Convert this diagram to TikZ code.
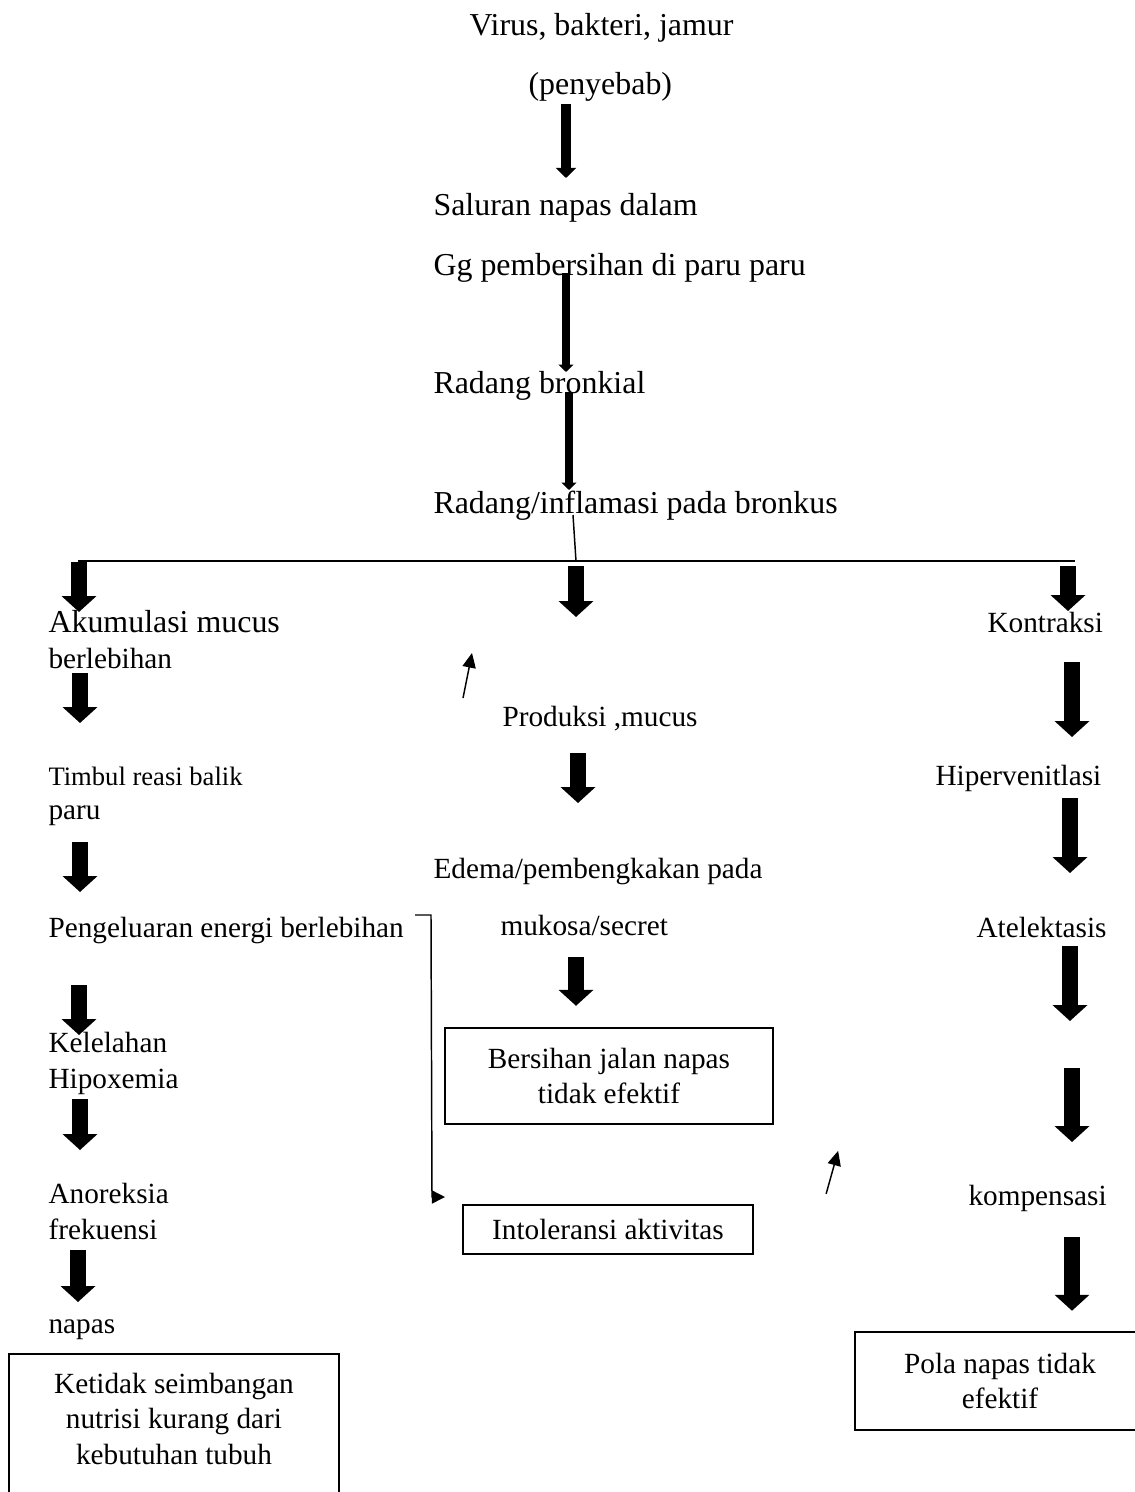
\documentclass[tikz,border=0pt]{standalone}
\usepackage{fontspec}
\setmainfont{Liberation Serif}
\usetikzlibrary{arrows.meta,calc}

\tikzset{
  teks/.style={inner sep=0pt, anchor=base west, font=\fontsize{11}{13.2}\selectfont},
  teksbesar/.style={teks, font=\fontsize{12}{14.4}\selectfont},
  tekskecil/.style={teks, font=\fontsize{10}{12}\selectfont},
  kotak/.style={draw, line width=0.9pt, align=center, inner sep=0pt, font=\fontsize{11}{13.2}\selectfont},
  garis/.style={line width=0.55pt},
  panah/.style={line width=6pt, -{Triangle[width=12.8pt,length=6pt]}},
  panahatas/.style={line width=3pt, -{Triangle[width=5.5pt,length=2.8pt]}},
  panahkecil/.style={garis, -{Triangle[width=5pt,length=5.5pt]}},
}

\begin{document}
\begin{tikzpicture}[x=0.376pt, y=-0.376pt]
 \clip (0,0) rectangle (1135,1492);

 % bagian atas
 \node[teksbesar] (virus) at (469,35) {Virus, bakteri, jamur};
 \node[teksbesar] (penyebab) at (528,94) {(penyebab)};
 \node[teksbesar] (saluran) at (433,215) {Saluran napas dalam};
 \node[teksbesar] (gg) at (433,275) {Gg pembersihan di paru paru};
 \node[teksbesar] (bronkial) at (433,393) {Radang bronkial};
 \node[teksbesar] (radang) at (433,513) {Radang/inflamasi pada bronkus};

 % kolom kiri
 \node[teksbesar] (akumulasi) at (48,632) {Akumulasi mucus};
 \node[teks] (berlebihan) at (48,668) {berlebihan};
 \node[tekskecil] (timbul) at (48,785) {Timbul reasi balik};
 \node[teks] (paru) at (48,819) {paru};
 \node[teks] (pengeluaran) at (48,937) {Pengeluaran energi berlebihan};
 \node[teks] (kelelahan) at (48,1052) {Kelelahan};
 \node[teks] (hipoxemia) at (48,1088) {Hipoxemia};
 \node[teks] (anoreksia) at (48,1203) {Anoreksia};
 \node[teks] (frekuensi) at (48,1239) {frekuensi};
 \node[teks] (napas) at (48,1333) {napas};
 \node[teks, anchor=north, align=center] (ketidak) at (174,1373) {Ketidak seimbangan\\nutrisi kurang dari\\kebutuhan tubuh};
 \draw[line width=0.9pt] (9,1500) |- (339,1354) -- (339,1500);

 % kolom tengah
 \node[teks] (produksi) at (502,726) {Produksi ,mucus};
 \node[teks] (edema) at (433,878) {Edema/pembengkakan pada};
 \node[teks] (mukosa) at (500,935) {mukosa/secret};
 \node[kotak, minimum width=123.3pt, minimum height=36.1pt] (bersihan) at (609,1076) {Bersihan jalan napas\\tidak efektif};
 \node[kotak, minimum width=109pt, minimum height=18.4pt] (intoleransi) at (608,1229.5) {Intoleransi aktivitas};

 % kolom kanan
 \node[teks] (kontraksi) at (987,632) {Kontraksi};
 \node[teks] (hiper) at (935,785) {Hipervenitlasi};
 \node[teks] (atelektasis) at (976,937) {Atelektasis};
 \node[teks] (kompensasi) at (968,1205) {kompensasi};
 \node[kotak, minimum width=109pt, minimum height=36.9pt] (pola) at (1000,1381) {Pola napas tidak\\efektif};

 % percabangan
 \coordinate (palangkiri) at (78,561);
 \coordinate (palangkanan) at (1075,561);
 \coordinate (cabang) at (576,561);
 \draw[garis] (palangkiri) -- (palangkanan);
 \draw[garis] ($(radang.base west)+(140,2)$) -- (cabang);

 % panah atas
 \draw[line width=3.4pt, -{Triangle[width=7.5pt,length=3.8pt]}] ($(penyebab.base west)+(38,10)$) -- ($(saluran.base west)+(133,-37)$);
 \draw[panahatas] ($(gg.base west)+(133,-2)$) -- ($(bronkial.base west)+(133,-21)$);
 \draw[panahatas] ($(bronkial.base west)+(136,-1)$) -- ($(radang.base west)+(136,-23)$);

 % panah cabang
 \draw[panah] ($(palangkiri)+(1,1)$) -- ($(akumulasi.base west)+(31,-20)$);
 \draw[panah] ($(cabang)+(0,5)$) -- ($(produksi.base west)+(74,-109)$);
 \draw[panah] ($(palangkanan)+(-7,5)$) -- ($(kontraksi.base west)+(81,-21)$);

 % panah kiri
 \draw[panah] ($(berlebihan.base west)+(32,5)$) -- ($(timbul.base west)+(32,-62)$);
 \draw[panah] ($(paru.base west)+(32,23)$) -- ($(pengeluaran.base west)+(32,-45)$);
 \draw[panah] ($(pengeluaran.base west)+(31,48)$) -- ($(kelelahan.base west)+(31,-17)$);
 \draw[panah] ($(hipoxemia.base west)+(32,11)$) -- ($(anoreksia.base west)+(32,-53)$);
 \draw[panah] ($(frekuensi.base west)+(30,11)$) -- ($(napas.base west)+(30,-31)$);

 % panah tengah
 \draw[panah] ($(produksi.base west)+(76,27)$) -- ($(edema.base west)+(145,-75)$);
 \draw[panah] ($(mukosa.base west)+(76,22)$) -- ($(bersihan.north)+(-33,-21)$);

 % panah kanan
 \draw[panah] ($(kontraksi.base west)+(85,30)$) -- ($(hiper.base west)+(137,-48)$);
 \draw[panah] ($(hiper.base west)+(135,13)$) -- ($(atelektasis.base west)+(94,-64)$);
 \draw[panah] ($(atelektasis.base west)+(94,9)$) -- ($(kompensasi.base west)+(102,-184)$);
 \draw[panah] ($(atelektasis.base west)+(96,131)$) -- ($(kompensasi.base west)+(104,-63)$);
 \draw[panah] ($(kompensasi.base west)+(104,32)$) -- ($(pola.north)+(72,-20)$);

 % panah kecil dan kurung
 \draw[panahkecil] ($(produksi.base west)+(-39,-28)$) -- ($(produksi.base west)+(-30,-73)$);
 \draw[panahkecil] ($(intoleransi.north east)+(72,-10)$) -- ($(intoleransi.north east)+(84,-53)$);
 \draw[garis, -{Triangle[width=4.9pt,length=4.9pt]}] ($(pengeluaran.base west)+(367,-22)$) -- ++(16,0) -- ++(1,282) -- ++(13,0);
\end{tikzpicture}
\end{document}
